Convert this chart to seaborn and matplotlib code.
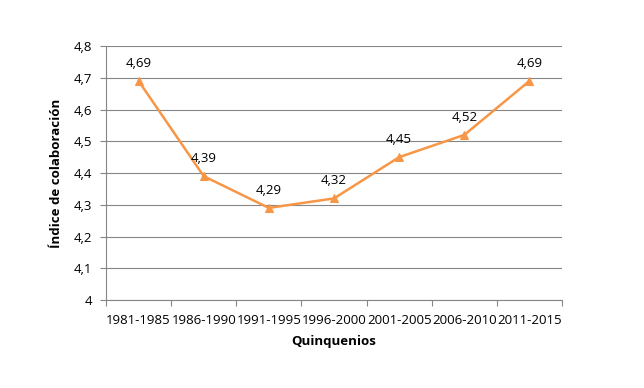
import matplotlib
matplotlib.use("Agg")
import matplotlib.pyplot as plt
import seaborn as sns
import pandas as pd
from matplotlib.ticker import FixedLocator, FuncFormatter

periods = ["1981-1985", "1986-1990", "1991-1995", "1996-2000", "2001-2005", "2006-2010", "2011-2015"]
values = [4.69, 4.39, 4.29, 4.32, 4.45, 4.52, 4.69]
y_ticks = [4.0, 4.1, 4.2, 4.3, 4.4, 4.5, 4.6, 4.7, 4.8]

sns.set_theme(style="white")
plt.rcParams['font.family'] = ['Open Sans', 'DejaVu Sans']
plt.rcParams['text.color'] = 'black'
plt.rcParams['axes.labelcolor'] = 'black'
plt.rcParams['xtick.color'] = 'black'
plt.rcParams['ytick.color'] = 'black'

df = pd.DataFrame({"x": range(len(periods)), "Índice": values})

fig = plt.figure(figsize=(6.44, 3.88), dpi=100)
ax = fig.add_axes([0.1646, 0.2268, 0.7081, 0.6546])
color = "#F79646"
axis_grey = "#868686"
sns.lineplot(data=df, x="x", y="Índice", ax=ax, color=color, marker="^",
             markersize=6, markeredgecolor=color, linewidth=1.8)

for xi, v in zip(df["x"], values):
    ax.annotate(f"{v:.2f}".replace(".", ","), (xi, v), xytext=(0, 8),
                textcoords="offset points", ha="center", va="bottom", fontsize=9.5)

ax.set_xlim(-0.5, len(periods) - 0.5)
ax.set_ylim(4.0, 4.8)
ax.set_yticks(y_ticks)
ax.yaxis.set_major_formatter(FuncFormatter(lambda v, p: ("%g" % round(v, 1)).replace(".", ",")))
ax.set_xticks(range(len(periods)))
ax.set_xticklabels(periods, fontsize=9.5)
ax.xaxis.set_minor_locator(FixedLocator([i - 0.5 for i in range(len(periods) + 1)]))
ax.tick_params(axis="x", which="major", length=0, pad=10)
ax.tick_params(axis="x", which="minor", length=4, width=0.8, color=axis_grey, direction="out", bottom=True)
ax.tick_params(axis="y", length=4, width=0.8, color=axis_grey, direction="out", left=True,
               labelsize=9.5, pad=6)
ax.grid(axis="y", color=axis_grey, linewidth=0.8)
ax.set_axisbelow(True)
for s in ["top", "right"]:
    ax.spines[s].set_visible(False)
for s in ["bottom", "left"]:
    ax.spines[s].set_color(axis_grey)
    ax.spines[s].set_linewidth(0.8)
ax.set_xlabel("Quinquenios", fontsize=9.5, fontweight="bold", labelpad=6)
ax.set_ylabel("Índice de colaboración", fontsize=9.5, fontweight="bold", labelpad=8)

fig.savefig("out.png", dpi=100)
